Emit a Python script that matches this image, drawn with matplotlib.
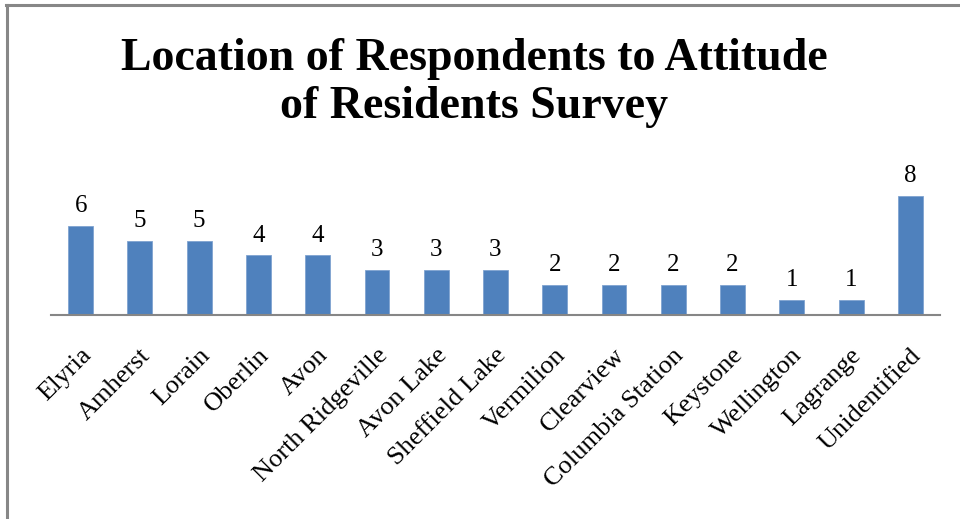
import matplotlib
matplotlib.use("Agg")
import matplotlib.pyplot as plt
import matplotlib.transforms as mtransforms
from matplotlib.lines import Line2D

categories = ["Elyria", "Amherst", "Lorain", "Oberlin", "Avon", "North Ridgeville",
              "Avon Lake", "Sheffield Lake", "Vermilion", "Clearview",
              "Columbia Station", "Keystone", "Wellington", "Lagrange", "Unidentified"]
values = [6, 5, 5, 4, 4, 3, 3, 3, 2, 2, 2, 2, 1, 1, 8]
title = "Location of Respondents to Attitude\nof Residents Survey"

W, H = 960, 519
fig = plt.figure(figsize=(W / 100, H / 100), dpi=100)
fig.patch.set_facecolor("white")

serif = ["Liberation Serif", "DejaVu Serif"]

ax_left, ax_right, ax_base, ax_top = 51, 940, 315, 150
ax = fig.add_axes([ax_left / W, 1 - ax_base / H, (ax_right - ax_left) / W, (ax_base - ax_top) / H])
ppu = 14.9
ax.set_ylim(0, (ax_base - ax_top) / ppu)
ax.set_xlim(-0.5, len(categories) - 0.5)

x = list(range(len(categories)))
bars = ax.bar(x, values, width=0.42, color="#4F81BD", edgecolor="#7FA3D0", linewidth=0.6, zorder=2)

for xi, v in zip(x, values):
    ax.annotate(str(v), (xi, v), xytext=(0, 10), textcoords="offset points",
                ha="center", va="baseline", fontsize=18, family=serif, color="black")

for s in ["top", "right", "left"]:
    ax.spines[s].set_visible(False)
ax.spines["bottom"].set_color("#868686")
ax.spines["bottom"].set_linewidth(1.5)
ax.set_yticks([])
ax.set_xticks(x)
ax.set_xticklabels(categories, rotation=45, ha="right", va="center", rotation_mode="anchor",
                   fontsize=19, family=serif)
ax.tick_params(axis="x", length=0, pad=0)
offset = mtransforms.ScaledTranslation(7 / 100, -37 / 100, fig.dpi_scale_trans)
for lab in ax.get_xticklabels():
    lab.set_transform(lab.get_transform() + offset)

fig.text(474 / W, 1 - 38 / H, title, ha="center", va="top", fontsize=33, fontweight="bold",
         family=serif, linespacing=1.18)

# chart frame (top and left edges visible)
fig.add_artist(Line2D([6 / W, 1], [1 - 5 / H, 1 - 5 / H], transform=fig.transFigure,
                      color="#878787", linewidth=2.2))
fig.add_artist(Line2D([7 / W, 7 / W], [0, 1 - 5 / H], transform=fig.transFigure,
                      color="#878787", linewidth=2.2))

fig.savefig("out.png", dpi=100)
